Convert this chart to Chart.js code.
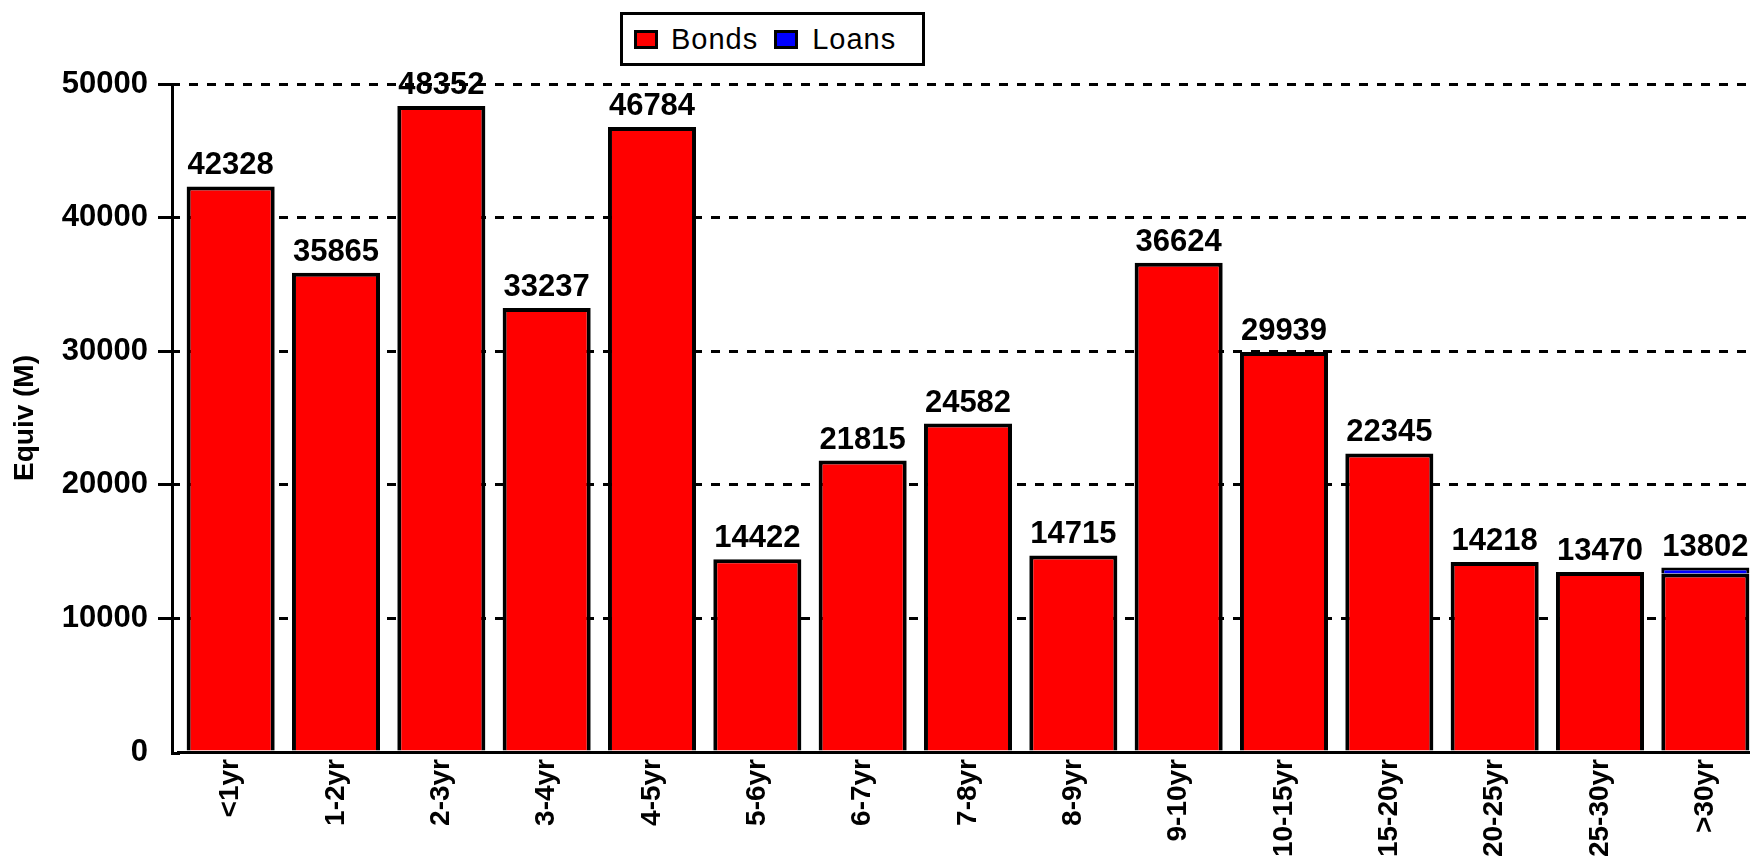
<!DOCTYPE html>
<html>
<head>
<meta charset="utf-8">
<title>Equiv (M) by maturity</title>
<script src="https://cdn.jsdelivr.net/npm/chart.js@4"></script>
<style>
    body {
        margin: 0;
        background: #fff;
        overflow: hidden;
    }

    .wrap {
        position: relative;
        width: 1758px;
        height: 861px;
    }

    .legend {
        position: absolute;
        left: 620px;
        top: 12px;
        width: 305px;
        height: 54px;
        box-sizing: border-box;
        border: 3px solid #000;
        background: #fff;
        display: flex;
        align-items: center;
        font-family: "Liberation Sans", Arial, sans-serif;
        font-size: 29px;
        letter-spacing: 1px;
        color: #000;
    }

    .legend .box {
        width: 24px;
        height: 19px;
        box-sizing: border-box;
        border: 3px solid #000;
    }
</style>
</head>
<body>

<div class="wrap">
    <canvas id="maturityChart" width="1758" height="861"></canvas>

    <div class="legend">
        <span class="box" style="background:#ff0000; margin-left:11px"></span>
        <span style="margin-left:13px">Bonds</span>
        <span class="box" style="background:#0000ff; margin-left:16px"></span>
        <span style="margin-left:14px">Loans</span>
    </div>
</div>

<script>

let buckets = ["<1yr", "1-2yr", "2-3yr", "3-4yr", "4-5yr", "5-6yr", "6-7yr", "7-8yr",
               "8-9yr", "9-10yr", "10-15yr", "15-20yr", "20-25yr", "25-30yr", ">30yr"];

let bonds = [42328, 35865, 48352, 33237, 46784, 14422, 21815, 24582,
             14715, 36624, 29939, 22345, 14218, 13470, 13352];

let loans = [0, 0, 0, 0, 0, 0, 0, 0,
             0, 0, 0, 0, 0, 0, 450];

let yTicks = [0, 10000, 20000, 30000, 40000, 50000];


// totals written above each stack
let totalsPlugin = {
    id: "totals",
    afterDatasetsDraw(chart) {
        let ctx = chart.ctx;
        let yScale = chart.scales.y;
        let meta = chart.getDatasetMeta(0);

        ctx.save();
        ctx.font = "bold 31px 'Liberation Sans', Arial, sans-serif";
        ctx.fillStyle = "#000";
        ctx.textAlign = "center";
        ctx.textBaseline = "alphabetic";

        for (let i = 0; i < buckets.length; i++) {
            let total = bonds[i] + loans[i];
            let x = meta.data[i].x;
            let y = yScale.getPixelForValue(total);
            ctx.fillText(String(total), x, y - 12);
        }
        ctx.restore();
    }
};

// y axis line sits a few px left of the first category
let axisPlugin = {
    id: "axisLine",
    afterDraw(chart) {
        let ctx = chart.ctx;
        let area = chart.chartArea;

        ctx.save();
        ctx.strokeStyle = "#000";
        ctx.lineWidth = 3;
        ctx.beginPath();
        ctx.moveTo(172.5, area.top);
        ctx.lineTo(172.5, area.bottom + 1.5);
        ctx.lineTo(area.left + 2, area.bottom + 1.5);
        ctx.stroke();
        ctx.restore();
    }
};

let ctx1 = document.getElementById("maturityChart").getContext("2d");

new Chart(ctx1, {
    type: "bar",
    data: {
        labels: buckets,
        datasets: [
            {
                label: "Bonds",
                data: bonds,
                backgroundColor: "#ff0000",
                borderColor: "#000",
                borderWidth: 4,
                inflateAmount: 0,
                barPercentage: 0.836,
                categoryPercentage: 1
            },
            {
                label: "Loans",
                data: loans,
                backgroundColor: "#0000ff",
                borderColor: "#000",
                borderWidth: 3,
                inflateAmount: 0,
                barPercentage: 0.836,
                categoryPercentage: 1
            }
        ]
    },

    options: {
        responsive: false,
        animation: false,
        devicePixelRatio: 1,

        layout: {
            padding: { top: 84, left: 0, right: 0, bottom: 0 }
        },

        plugins: {
            legend: { display: false },
            tooltip: { enabled: false }
        },

        scales: {
            x: {
                stacked: true,
                grid: { display: false, drawTicks: false },
                border: { display: true, color: "#000", width: 3 },
                ticks: {
                    color: "#000",
                    padding: 7,
                    minRotation: 90,
                    maxRotation: 90,
                    autoSkip: false,
                    font: { family: "'Liberation Sans', Arial, sans-serif", size: 28, weight: "bold" }
                },
                afterFit(scale) {
                    scale.height = 109;
                }
            },

            y: {
                stacked: true,
                min: 0,
                max: 50000,
                afterBuildTicks(scale) {
                    scale.ticks = yTicks.map(v => ({ value: v }));
                },
                grid: {
                    color: "#000",
                    lineWidth: 3,
                    tickLength: 20,
                    tickColor: (c) => (c.tick && c.tick.value === 0) ? "rgba(0,0,0,0)" : "#000"
                },
                border: { display: false, dash: [9, 9], dashOffset: 7 },
                ticks: {
                    color: "#000",
                    padding: 10,
                    callback: (value) => String(value),
                    font: { family: "'Liberation Sans', Arial, sans-serif", size: 31, weight: "bold" }
                },
                title: {
                    display: true,
                    text: "Equiv (M)",
                    color: "#000",
                    padding: { top: 8, bottom: 0 },
                    font: { family: "'Liberation Sans', Arial, sans-serif", size: 28, weight: "bold" }
                },
                afterFit(scale) {
                    scale.width = 178;
                }
            }
        }
    },

    plugins: [totalsPlugin, axisPlugin]
});

</script>
</body>
</html>
